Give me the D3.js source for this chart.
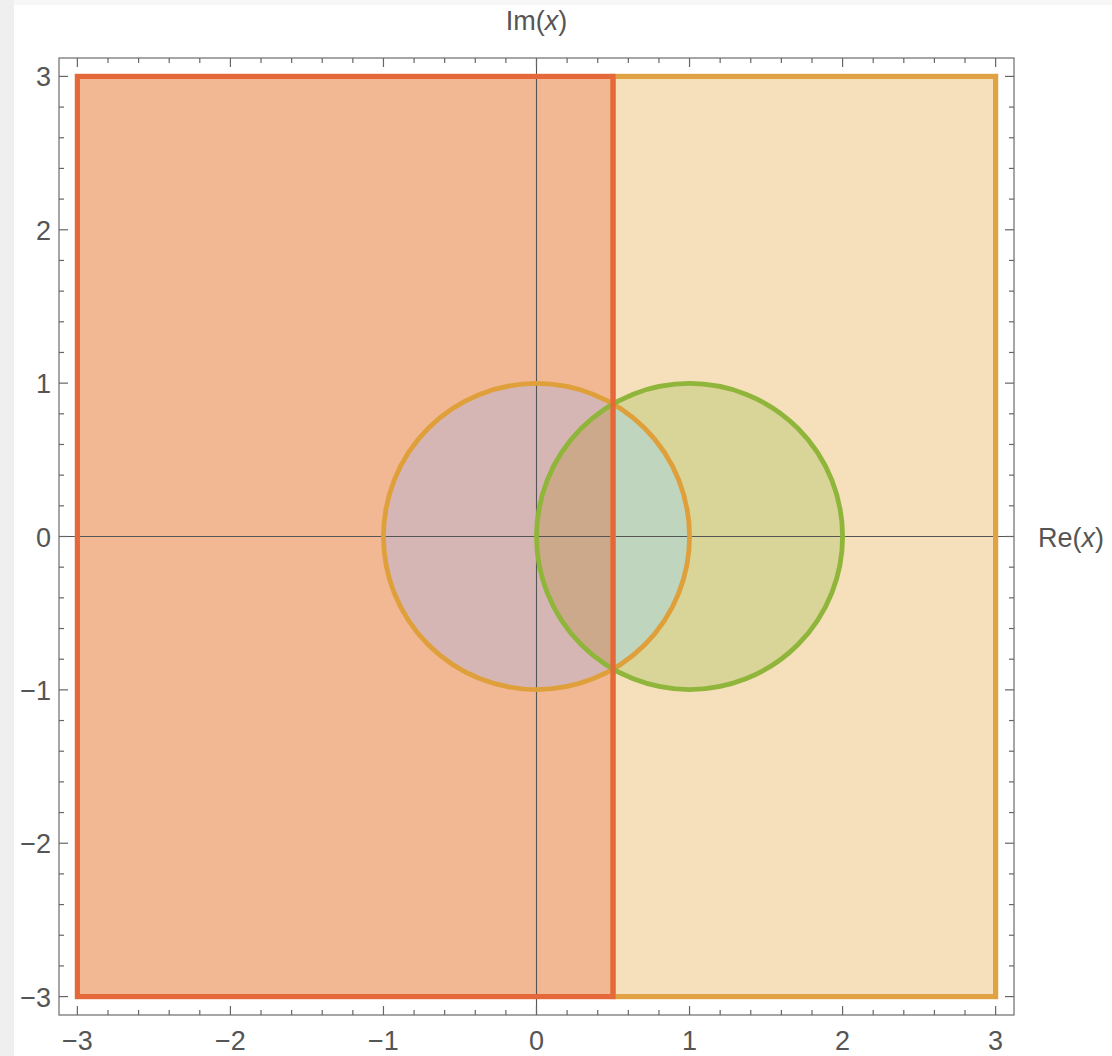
<!DOCTYPE html>
<html><head><meta charset="utf-8">
<script src="https://cdn.jsdelivr.net/npm/d3@7"></script>
<style>
body{margin:0;background:#fff;}
svg{display:block;font-family:"Liberation Sans","DejaVu Sans",sans-serif;}
</style></head>
<body>
<svg id="c" width="1112" height="1056"></svg>
<script>
// ---- data ----
const xDomain = [-3.12, 3.12];
const yDomain = [-3.12, 3.12];
const majorTicks = [-3, -2, -1, 0, 1, 2, 3];
const tickLabels = ["\u22123", "\u22122", "\u22121", "0", "1", "2", "3"];
// half-planes clipped to the square
const leftRect = {x0: -3, x1: 0.5, y0: -3, y1: 3};
const rightRect = {x0: 0.5, x1: 3, y0: -3, y1: 3};
const splitRe = 0.5;
// disks
const circleA = {cx: 0, cy: 0, r: 1};
const circleB = {cx: 1, cy: 0, r: 1};
const xLabel = "Re";
const yLabel = "Im";

// ---- layout ----
const svg = d3.select("#c");
const L = 59, R = 1014, T = 58, B = 1015;
const x = d3.scaleLinear().domain(xDomain).range([L, R]);
const y = d3.scaleLinear().domain(yDomain).range([B, T]);
const FS = 27;

svg.append("rect").attr("width",1112).attr("height",1056).attr("fill","#f7f7f7");
svg.append("rect").attr("x",0).attr("y",0).attr("width",14).attr("height",1056).attr("fill","#efefef");
svg.append("rect").attr("x",14).attr("y",5).attr("width",1098).attr("height",1051).attr("fill","#ffffff");

const defs = svg.append("defs");
function clipRect(id, x0, x1) {
  defs.append("clipPath").attr("id", id).append("rect")
    .attr("x", x(x0)).attr("y", y(3)).attr("width", x(x1) - x(x0)).attr("height", y(-3) - y(3));
}
clipRect("clipL", -3, splitRe);
clipRect("clipR", splitRe, 3);

const g = svg.append("g");
function rect(r, fill) {
  return g.append("rect").attr("x", x(r.x0)).attr("y", y(r.y1))
    .attr("width", x(r.x1) - x(r.x0)).attr("height", y(r.y0) - y(r.y1)).attr("fill", fill);
}
function circ(c, fill, clip) {
  const el = g.append("circle").attr("cx", x(c.cx)).attr("cy", y(c.cy))
    .attr("r", x(c.r) - x(0)).attr("fill", fill);
  if (clip) el.attr("clip-path", "url(#" + clip + ")");
  return el;
}
// fills
rect(rightRect, "#f6e0bb");
rect(leftRect, "#f2b893");
circ(circleB, "#d9d498");
circ(circleA, "#d6b6b5", "clipL");
circ(circleA, "#bfd5bd", "clipR");
circ(circleB, "#cda98b", "clipL");

// axes lines
g.append("line").attr("x1", L).attr("x2", R).attr("y1", y(0)).attr("y2", y(0)).attr("stroke", "#555").attr("stroke-width", 1.1);
g.append("line").attr("x1", x(0)).attr("x2", x(0)).attr("y1", T).attr("y2", B).attr("stroke", "#555").attr("stroke-width", 1.1);

// strokes
function rectStroke(r, col) {
  g.append("rect").attr("x", x(r.x0)).attr("y", y(r.y1))
    .attr("width", x(r.x1) - x(r.x0)).attr("height", y(r.y0) - y(r.y1))
    .attr("fill", "none").attr("stroke", col).attr("stroke-width", 5.2);
}
rectStroke(rightRect, "#e0a242");
g.append("circle").attr("cx", x(circleA.cx)).attr("cy", y(circleA.cy)).attr("r", x(circleA.r) - x(0))
  .attr("fill", "none").attr("stroke", "#dfa03c").attr("stroke-width", 4.8);
g.append("circle").attr("cx", x(circleB.cx)).attr("cy", y(circleB.cy)).attr("r", x(circleB.r) - x(0))
  .attr("fill", "none").attr("stroke", "#8fb53a").attr("stroke-width", 4.8);
rectStroke(leftRect, "#e5683a");

// frame
svg.append("rect").attr("x", L).attr("y", T).attr("width", R - L).attr("height", B - T)
  .attr("fill", "none").attr("stroke", "#777").attr("stroke-width", 1.3);

// ticks
const minor = d3.range(-30, 31, 2).map(v => v / 10).filter(v => Math.abs(v - Math.round(v)) > 1e-6);
const tg = svg.append("g").attr("stroke", "#666").attr("stroke-width", 1.2);
function ticks(vals, len) {
  vals.forEach(v => {
    tg.append("line").attr("x1", x(v)).attr("x2", x(v)).attr("y1", B).attr("y2", B - len);
    tg.append("line").attr("x1", x(v)).attr("x2", x(v)).attr("y1", T).attr("y2", T + len);
    tg.append("line").attr("y1", y(v)).attr("y2", y(v)).attr("x1", L).attr("x2", L + len);
    tg.append("line").attr("y1", y(v)).attr("y2", y(v)).attr("x1", R).attr("x2", R - len);
  });
}
ticks(majorTicks, 9);
ticks(minor, 5);

// tick labels
const lg = svg.append("g").attr("fill", "#555").attr("font-size", FS);
majorTicks.forEach((v, i) => {
  lg.append("text").attr("x", x(v)).attr("y", 1050).attr("text-anchor", "middle").text(tickLabels[i]);
  lg.append("text").attr("x", 51).attr("y", y(v) + 10).attr("text-anchor", "end").text(tickLabels[i]);
});

// axis labels
function axisLabel(px, py, name, anchor) {
  const t = svg.append("text").attr("x", px).attr("y", py).attr("text-anchor", anchor)
    .attr("fill", "#555").attr("font-size", FS);
  t.append("tspan").text(name + "(");
  t.append("tspan").attr("font-style", "italic").text("x");
  t.append("tspan").text(")");
}
axisLabel(x(0), 30, yLabel, "middle");
axisLabel(1038, y(0) + 10, xLabel, "start");
</script>
</body></html>
